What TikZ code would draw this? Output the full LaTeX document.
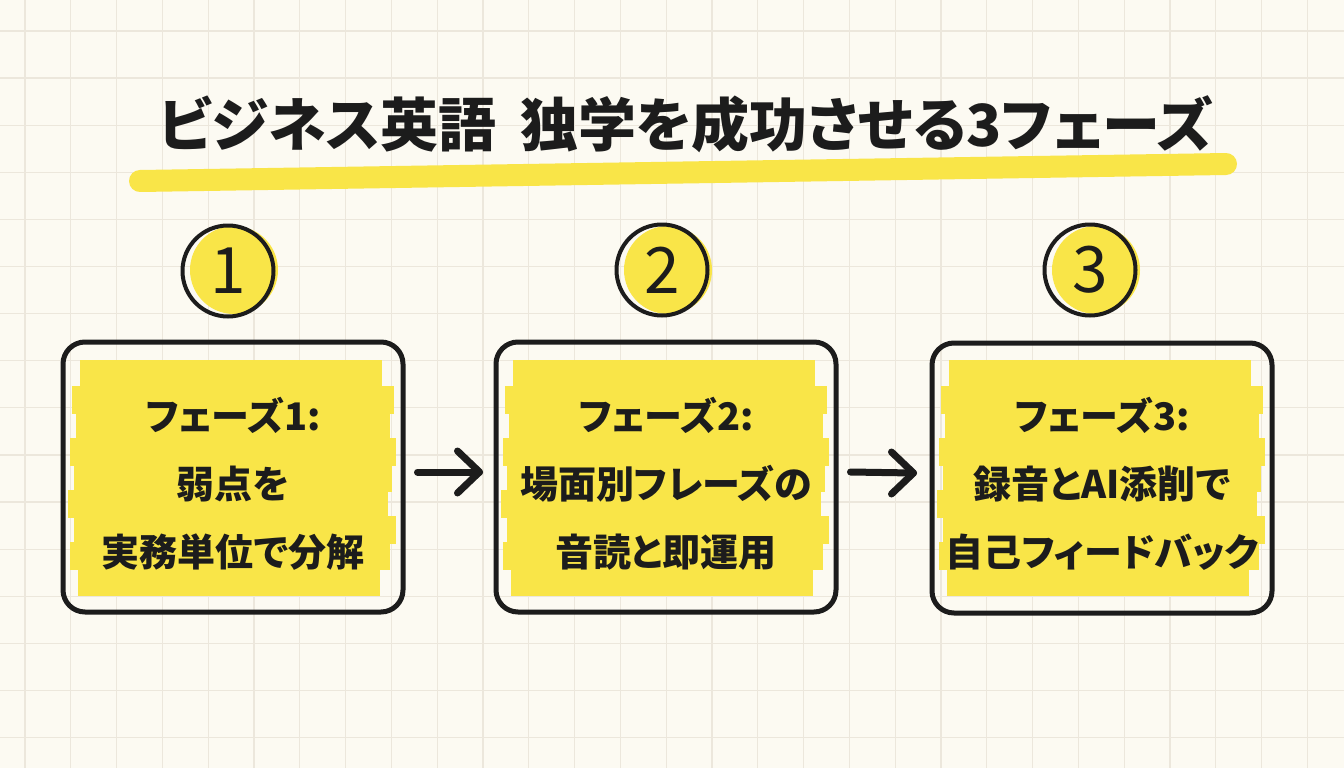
\documentclass[tikz,border=0pt]{standalone}
\usepackage{fontspec}
\setmainfont{Noto Sans CJK JP}[RawFeature=+palt]
\usetikzlibrary{calc}

\definecolor{paper}{RGB}{252,250,242}
\definecolor{gridline}{RGB}{236,231,220}
\definecolor{marker}{RGB}{249,229,72}
\definecolor{ink}{RGB}{28,28,28}

\begin{document}
\begin{tikzpicture}[x=1pt, y=-1pt, line join=round, line cap=round,
    hlstroke/.style={draw=marker, line width=28pt, line cap=butt},
    phasebox/.style={draw=ink, line width=5pt, rounded corners=22pt,
        minimum width=340pt, minimum height=270pt},
    phasetext/.style={text=ink, align=center, font=\bfseries\fontsize{38}{68}\selectfont},
    numcircle/.style={circle, draw=ink, line width=4pt, minimum size=91pt, inner sep=0pt,
        text=ink, font=\fontsize{64}{64}\selectfont},
    flowarrow/.style={draw=ink, line width=7pt}]
    % 背景（方眼紙）
    \fill[paper] (0,0) rectangle (1344,768);
    \useasboundingbox (0,0) rectangle (1344,768);
    \foreach \i in {0,...,29}
        \draw[gridline, line width=1.2pt] ({25+45.8*\i},0) -- ++(0,768);
    \foreach \j in {0,...,15}
        \draw[gridline, line width=1.2pt] (0,{31+47.1*\j}) -- ++(1344,0);

    % タイトルと下線マーカー
    \coordinate (hlL) at (140,181);
    \coordinate (hlR) at (1226,164);
    \draw[marker, line width=22pt] (hlL) -- (hlR);
    \node[text=ink, font=\bfseries\fontsize{58}{58}\selectfont] (title) at (686,124)
        {ビジネス英語\hspace{0.4em}独学を成功させる3フェーズ};

    % ボックス内のマーカー塗り
    \foreach \cx in {233,666,1102} {
        \foreach \dy/\a/\b in {-103/8/-10, -77/0/2, -51/4/-2, -25/-2/4, 1/2/0,
                               27/-4/-4, 53/2/4, 79/-2/-2, 105/6/-12}
            \draw[hlstroke] ({\cx-161+\a},{477+\dy}) -- ({\cx+159+\b},{477+\dy});
    }

    % 番号の丸
    \fill[marker] (234,270) circle (44pt);
    \fill[marker] (668,270) circle (44pt);
    \fill[marker] (1096,270) circle (44pt);
    \node[numcircle] (num1) at (228,271) {1};
    \node[numcircle] (num2) at (662,270) {2};
    \node[numcircle] (num3) at (1090,270) {3};

    % フェーズのボックス
    \node[phasebox] (phase1) at (233,477) {};
    \node[phasebox] (phase2) at (666,477) {};
    \node[phasebox] (phase3) at (1102,478) {};

    \node[phasetext] (text1) at (233,484) {フェーズ1:\\弱点を\\実務単位で分解};
    \node[phasetext] (text2) at (666,484) {フェーズ2:\\場面別フレーズの\\音読と即運用};
    \node[phasetext] (text3) at (1102,484) {フェーズ3:\\録音とAI添削で\\自己フィードバック};

    % 矢印（先端は開いたV字）
    \coordinate (tip1) at ($(phase2.west)+(-14,-5)$);
    \coordinate (tip2) at ($(phase3.west)+(-16,-5)$);
    \draw[flowarrow] ($(phase1.east)+(12,-5)$) -- (tip1);
    \draw[flowarrow] ($(tip1)+(-22,-21)$) -- (tip1) -- ($(tip1)+(-22,21)$);
    \draw[flowarrow] ($(phase2.east)+(12,-5)$) -- (tip2);
    \draw[flowarrow] ($(tip2)+(-22,-21)$) -- (tip2) -- ($(tip2)+(-22,21)$);
\end{tikzpicture}
\end{document}
